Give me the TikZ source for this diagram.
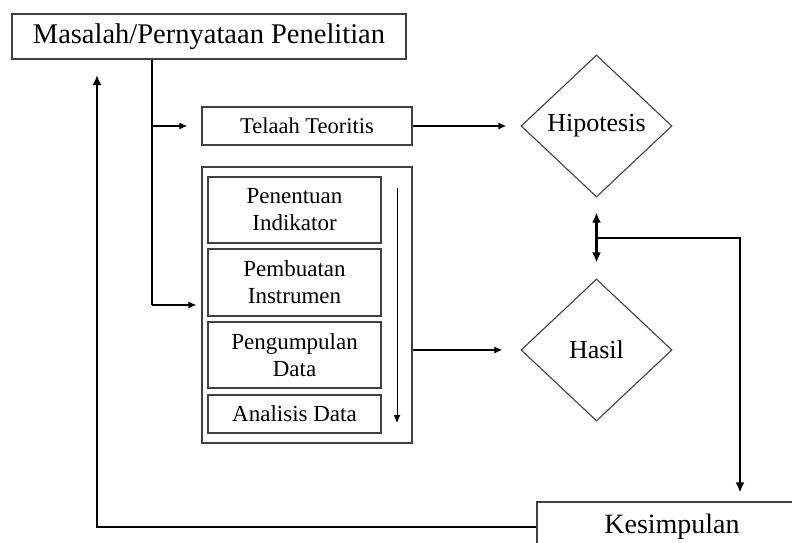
\documentclass[tikz,border=0pt]{standalone}
\usepackage{fontspec}
\setmainfont{Liberation Serif}
\usetikzlibrary{shapes.geometric,arrows.meta}

\begin{document}
\begin{tikzpicture}[x=1pt,y=-1pt,
	kotak/.style={draw=black!75,line width=1.1pt,rectangle,inner sep=2pt,align=center},
	langkah/.style={kotak,minimum width=173,font=\fontsize{23}{27}\selectfont},
	keputusan/.style={draw=black!75,line width=1.1pt,diamond,inner sep=0pt,minimum width=151,minimum height=142,font=\fontsize{26}{30}\selectfont},
	panah/.style={line width=1.3pt,-{Latex[length=8pt,width=7pt]}},
	balikan/.style={line width=2.6pt,-{Latex[length=10pt,width=9pt]}}]
	\useasboundingbox (0,0) rectangle (792,543);
	\clip (0,0) rectangle (792,543);

	% Boxes
	\node[kotak,minimum width=394,minimum height=45,font=\fontsize{28.5}{32}\selectfont] (masalah) at (209,36.5) {Masalah/Pernyataan Penelitian};
	\node[kotak,minimum width=210,minimum height=38,font=\fontsize{22.5}{27}\selectfont] (telaah) at (307,126) {Telaah Teoritis};
	\node[kotak,minimum width=210,minimum height=276] (proses) at (307,305) {};
	\node[langkah,minimum height=66] (indikator) at (294.5,210) {Penentuan\\Indikator};
	\node[langkah,minimum height=67] (instrumen) at (294.5,282.5) {Pembuatan\\Instrumen};
	\node[langkah,minimum height=66] (pengumpulan) at (294.5,355) {Pengumpulan\\Data};
	\node[langkah,minimum height=38] (analisis) at (294.5,414) {Analisis Data};
	\node[kotak,minimum width=270,minimum height=50,font=\fontsize{28}{32}\selectfont] (kesimpulan) at (672,527) {Kesimpulan};

	% Diamonds
	\node[keputusan] (hipotesis) at (596.5,126) {Hipotesis};
	\node[keputusan] (hasil) at (596.5,350) {Hasil};

	% Arrows
	\coordinate (cabang) at (152,305);
	\coordinate (urut1) at (397,188);
	\coordinate (urut2) at (397,423);
	\coordinate (sudut) at (740,238);
	\coordinate (kiri) at (97,75);
	\draw[line width=1.3pt] (masalah.south -| cabang) -- (cabang);
	\draw[panah,shorten >=14pt] (cabang |- telaah) -- (telaah.west);
	\draw[panah,shorten >=5pt] (cabang) -- (proses.west);
	\draw[panah,line width=1pt] (urut1) -- (urut2);
	\draw[panah,shorten >=14pt] (telaah.east) -- (hipotesis.west);
	\draw[panah,shorten >=18pt] (proses.east |- hasil) -- (hasil.west);
	\draw[balikan,{Latex[length=10pt,width=9pt]}-{Latex[length=10pt,width=9pt]},shorten <=15pt,shorten >=16pt] (hipotesis.south) -- (hasil.north);
	\draw[balikan,shorten >=9pt] (hipotesis.south |- sudut) -| (kesimpulan.north -| sudut);
	\draw[balikan] (kesimpulan.west) -| (kiri);
\end{tikzpicture}
\end{document}
